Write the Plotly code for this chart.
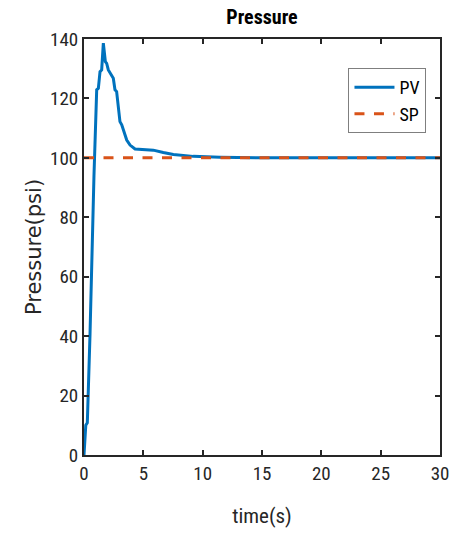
import plotly.graph_objects as go

# Process variable (pressure) vs time
time_s = [0.0, 0.15, 0.28, 0.51, 0.84, 0.93, 1.07, 1.21, 1.35, 1.49, 1.63, 1.80, 1.91,
          2.05, 2.33, 2.47, 2.61, 2.75, 3.03, 3.18, 3.60, 3.88, 4.30, 5.00, 5.84, 6.68,
          7.53, 9.20, 11.46, 15.0, 20.0, 25.0, 30.0]
pv_psi = [0.0, 10.0, 10.8, 41.0, 94.0, 106.0, 122.9, 123.4, 129.0, 129.6, 138.6, 132.4, 131.8,
          129.6, 127.9, 126.8, 122.9, 122.3, 112.2, 111.1, 106.0, 104.3, 103.0, 102.8, 102.6, 101.8,
          101.1, 100.5, 100.2, 100.0, 100.0, 100.0, 100.0]
sp_time = [0, 30]
sp_psi = [100, 100]

x_ticks = [0, 5, 10, 15, 20, 25, 30]
y_ticks = [0, 20, 40, 60, 80, 100, 120, 140]

FONT = "Liberation Sans Narrow, Arial Narrow, Roboto Condensed, sans-serif"

fig = go.Figure()
fig.add_trace(go.Scatter(x=time_s, y=pv_psi, mode="lines", name="PV",
                         line=dict(color="#0072BD", width=3)))
fig.add_trace(go.Scatter(x=sp_time, y=sp_psi, mode="lines", name="SP",
                         line=dict(color="#D95319", width=3, dash="10px,9.5px")))

axis_common = dict(showline=True, linecolor="#262626", linewidth=2, mirror="ticks",
                   ticks="inside", ticklen=5, tickwidth=1.5, tickcolor="#262626",
                   showgrid=False, zeroline=False, automargin=False,
                   tickfont=dict(family=FONT, size=19, color="#262626"))

fig.update_layout(
    width=452, height=535,
    margin=dict(l=84, r=12, t=39, b=80),
    plot_bgcolor="white", paper_bgcolor="white",
    title=dict(text="<b>Pressure</b>", x=0.5, xanchor="center", xref="paper",
               y=1 - 17 / 535, yanchor="middle",
               font=dict(family=FONT, size=20, color="black")),
    xaxis=dict(range=[0, 30], tickvals=x_ticks,
               title=dict(text="time(s)", font=dict(family=FONT, size=21, color="#262626"),
                          standoff=25),
               **axis_common),
    yaxis=dict(range=[0, 140], tickvals=y_ticks,
               title=dict(text="Pressure(psi)",
                          font=dict(family="DejaVu Sans, sans-serif", size=21, color="#262626"),
                          standoff=3),
               **axis_common),
    legend=dict(x=0.962, xanchor="right", y=0.93, yanchor="top",
                bordercolor="#7f7f7f", borderwidth=1, bgcolor="white",
                font=dict(family=FONT, size=18, color="black"),
                tracegroupgap=0, itemwidth=40),
)

fig.write_html("out.html")
